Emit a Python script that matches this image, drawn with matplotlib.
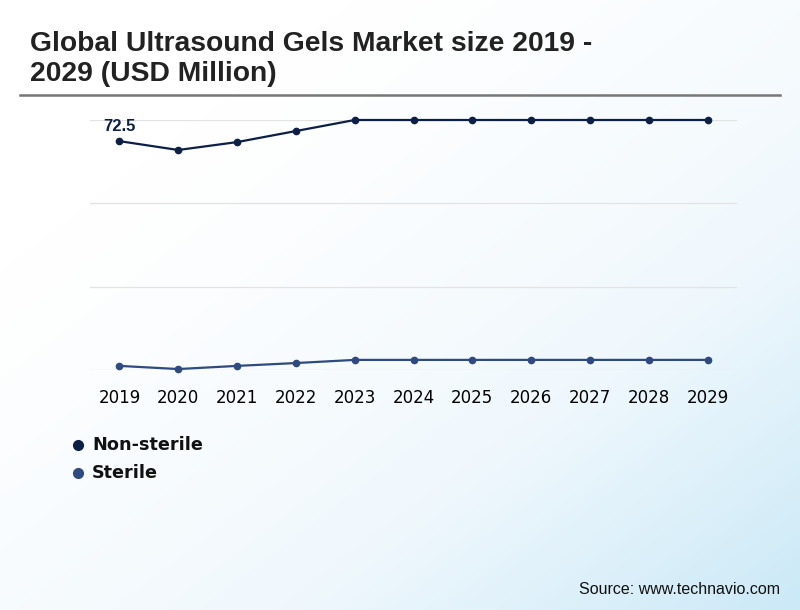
import numpy as np
import matplotlib.pyplot as plt
from matplotlib.colors import LinearSegmentedColormap

# 数据
years = [2019, 2020, 2021, 2022, 2023, 2024, 2025, 2026, 2027, 2028, 2029]
non_sterile = [72.5, 69.7, 72.2, 75.7, 79.2, 79.2, 79.2, 79.2, 79.2, 79.2, 79.2]
sterile = [1.3, 0.3, 1.3, 2.2, 3.2, 3.2, 3.2, 3.2, 3.2, 3.2, 3.2]
series_names = ['Non-sterile', 'Sterile']
series_colors = ['#0c1f45', '#2f4a7e']

fig = plt.figure(figsize=(8, 6.1), dpi=100)

# 背景渐变 白 -> 浅蓝
bg = fig.add_axes([0, 0, 1, 1], zorder=-10)
gx, gy = np.meshgrid(np.linspace(0, 1, 200), np.linspace(0, 1, 200))
grad = np.clip((gx * 0.6 + gy * 0.6) - 0.25, 0, 1) ** 1.3
cmap_bg = LinearSegmentedColormap.from_list('bg', ['#ffffff', '#f0f8fd', '#cbe9f7'])
bg.imshow(grad, cmap=cmap_bg, aspect='auto', extent=[0, 1, 0, 1], origin='upper')
bg.axis('off')

# 标题
fig.text(30 / 800, 1 - 59 / 610, 'Global Ultrasound Gels Market size 2019 -\n2029 (USD Million)',
         fontsize=20.3, fontweight='bold', family='Liberation Sans', color='#222222',
         va='center', ha='left', linespacing=1.2)
fig.add_artist(plt.Line2D([20 / 800, 780 / 800], [1 - 95 / 610, 1 - 95 / 610],
                          color='#777777', linewidth=1.8))

# 主图
ax = fig.add_axes([90 / 800, 1 - 370 / 610, 647 / 800, 250 / 610])
ax.patch.set_alpha(0)
ax.plot(years, non_sterile, color=series_colors[0], linewidth=1.6, marker='o',
        markersize=4.5, clip_on=False, zorder=3)
ax.plot(years, sterile, color=series_colors[1], linewidth=1.6, marker='o',
        markersize=4.5, clip_on=False, zorder=3)
ax.set_xlim(2018.5, 2029.5)
ax.set_ylim(0, 79.2)
ax.set_yticks(np.linspace(0, 79.2, 4))
ax.yaxis.grid(True, color='#e3e3e3', linewidth=0.9)
ax.tick_params(axis='y', left=False, labelleft=False)
ax.set_xticks(years)
ax.set_xticklabels([str(y) for y in years], fontsize=12, family='DejaVu Sans')
ax.tick_params(axis='x', length=0, pad=14)
for s in ax.spines.values():
    s.set_visible(False)
ax.set_axisbelow(True)

ax.annotate(f'{non_sterile[0]}', (years[0], non_sterile[0]), xytext=(0, 5),
            textcoords='offset points', ha='center', va='bottom',
            fontsize=12, fontweight='bold', family='Liberation Sans',
            color=series_colors[0])

# 图例
for i, name in enumerate(series_names):
    yy = 1 - (445 + 28 * i) / 610
    fig.add_artist(plt.Line2D([78 / 800], [yy], marker='o', markersize=7,
                              color=series_colors[i], linestyle='none'))
    fig.text(92 / 800, yy, name, fontsize=12.7, fontweight='bold',
             color='#111111', va='center', ha='left')

fig.text(780 / 800, 1 - 590 / 610, 'Source: www.technavio.com', fontsize=11.5,
         family='Liberation Sans', ha='right', va='center', color='#111111')

plt.savefig('out.png', dpi=100)
